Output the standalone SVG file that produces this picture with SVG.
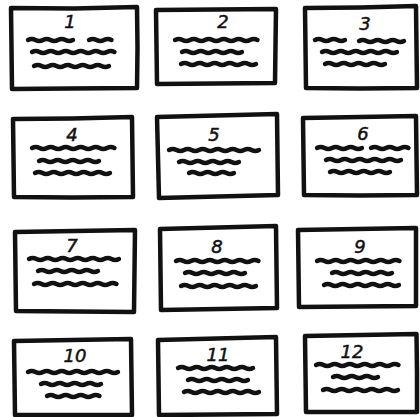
<svg xmlns="http://www.w3.org/2000/svg" width="420" height="417" viewBox="0 0 420 417">
<style>
.box{fill:none;stroke:#111;stroke-width:4.5;stroke-linejoin:round;stroke-linecap:round}
.w{fill:none;stroke:#111;stroke-width:4.4;stroke-linecap:round;stroke-linejoin:round}
.n{font-family:"DejaVu Sans",sans-serif;font-size:18px;font-style:italic;fill:#111;stroke:#111;stroke-width:0.5;text-anchor:middle}
</style>
<rect width="420" height="417" fill="#fff"/>
<g id="card1">
<path class="box" d="M11 8 L74 8.5 L137 7 L137.5 48 L137 88 L70 88.5 L12 89 L11.5 48 Z"/>
<text class="n" x="70" y="28">1</text>
<path class="w" d="M28 40 q3.75 -2 7.5 0 t7.5 0 7.5 0 7.5 0 7.5 0 7.5 0"/>
<path class="w" d="M89 40 q3.75 -2 7.5 0 t7.5 0 7.5 0"/>
<path class="w" d="M32 52 q3.75 -2 7.5 0 t7.5 0 7.5 0 7.5 0 7.5 0 7.5 0 7.5 0 7.5 0 7.5 0 7.5 0 7.5 0"/>
<path class="w" d="M34 66 q3.75 -2 7.5 0 t7.5 0 7.5 0 7.5 0 7.5 0 7.5 0 7.5 0 7.5 0 7.5 0 7.5 0"/>
</g>
<g id="card2">
<path class="box" d="M156 10 L216 9.5 L276 9 L275.5 46 L275 83 L216 83.5 L157 84 L156.5 47 Z"/>
<text class="n" x="223" y="28">2</text>
<path class="w" d="M175 40 q3.75 -2 7.5 0 t7.5 0 7.5 0 7.5 0 7.5 0 7.5 0 7.5 0 7.5 0 7.5 0 7.5 0 7.5 0"/>
<path class="w" d="M182 52 q3.75 -2 7.5 0 t7.5 0 7.5 0 7.5 0 7.5 0 7.5 0 7.5 0 7.5 0"/>
<path class="w" d="M181 64 q3.75 -2 7.5 0 t7.5 0 7.5 0 7.5 0 7.5 0 7.5 0 7.5 0 7.5 0 7.5 0 7.5 0"/>
</g>
<g id="card3">
<path class="box" d="M305 8 L360 7.5 L416 6 L416.5 47 L417 88 L360 88.5 L306 88 L305.5 48 Z"/>
<text class="n" x="365" y="30">3</text>
<path class="w" d="M315 40 q3.75 -2 7.5 0 t7.5 0 7.5 0 7.5 0"/>
<path class="w" d="M359 41 q3.75 -2 7.5 0 t7.5 0 7.5 0 7.5 0 7.5 0 7.5 0"/>
<path class="w" d="M322 52 q3.75 -2 7.5 0 t7.5 0 7.5 0 7.5 0 7.5 0 7.5 0 7.5 0 7.5 0 7.5 0 7.5 0"/>
<path class="w" d="M325 64 q3.75 -2 7.5 0 t7.5 0 7.5 0 7.5 0 7.5 0 7.5 0 7.5 0 7.5 0"/>
</g>
<g id="card4">
<path class="box" d="M13 119 L72 118.5 L132 117 L132.5 157 L133 197 L72 197.5 L14 197 L13.5 158 Z"/>
<text class="n" x="72" y="141">4</text>
<path class="w" d="M32 148 q3.75 -2 7.5 0 t7.5 0 7.5 0 7.5 0 7.5 0 7.5 0 7.5 0 7.5 0 7.5 0 7.5 0 7.5 0"/>
<path class="w" d="M39 161 q3.75 -2 7.5 0 t7.5 0 7.5 0 7.5 0 7.5 0 7.5 0 7.5 0 7.5 0"/>
<path class="w" d="M35 173 q3.75 -2 7.5 0 t7.5 0 7.5 0 7.5 0 7.5 0 7.5 0 7.5 0 7.5 0 7.5 0 7.5 0"/>
</g>
<g id="card5">
<path class="box" d="M157 117 L217 115.5 L277 114 L277.5 155 L278 195 L218 196.5 L159 198 L158 157 Z"/>
<text class="n" x="214" y="141">5</text>
<path class="w" d="M169 150 q3.75 -2 7.5 0 t7.5 0 7.5 0 7.5 0 7.5 0 7.5 0 7.5 0 7.5 0 7.5 0 7.5 0 7.5 0 7.5 0"/>
<path class="w" d="M179 162 q3.75 -2 7.5 0 t7.5 0 7.5 0 7.5 0 7.5 0 7.5 0 7.5 0 7.5 0"/>
<path class="w" d="M189 173 q3.75 -2 7.5 0 t7.5 0 7.5 0 7.5 0 7.5 0 7.5 0"/>
</g>
<g id="card6">
<path class="box" d="M303 118 L360 117 L416 116 L416.5 156 L417 195 L360 195.5 L304 195 L303.5 157 Z"/>
<text class="n" x="363" y="140">6</text>
<path class="w" d="M317 148 q3.75 -2 7.5 0 t7.5 0 7.5 0 7.5 0 7.5 0 7.5 0"/>
<path class="w" d="M371 148 q3.75 -2 7.5 0 t7.5 0 7.5 0 7.5 0 7.5 0"/>
<path class="w" d="M326 160 q3.75 -2 7.5 0 t7.5 0 7.5 0 7.5 0 7.5 0 7.5 0 7.5 0 7.5 0 7.5 0 7.5 0"/>
<path class="w" d="M330 172 q3.75 -2 7.5 0 t7.5 0 7.5 0 7.5 0 7.5 0 7.5 0 7.5 0 7.5 0"/>
</g>
<g id="card7">
<path class="box" d="M15 232 L75 231 L135 230 L134.5 271 L134 312 L75 311.5 L16 311 L15.5 272 Z"/>
<text class="n" x="72" y="252">7</text>
<path class="w" d="M29 259 q3.75 -2 7.5 0 t7.5 0 7.5 0 7.5 0 7.5 0 7.5 0 7.5 0 7.5 0 7.5 0 7.5 0 7.5 0 7.5 0"/>
<path class="w" d="M38 271 q3.75 -2 7.5 0 t7.5 0 7.5 0 7.5 0 7.5 0 7.5 0 7.5 0 7.5 0"/>
<path class="w" d="M34 284 q3.75 -2 7.5 0 t7.5 0 7.5 0 7.5 0 7.5 0 7.5 0 7.5 0 7.5 0 7.5 0 7.5 0 7.5 0"/>
</g>
<g id="card8">
<path class="box" d="M160 229 L218 227.5 L276 226 L276.5 267 L277 308 L219 309 L161 310 L160.5 270 Z"/>
<text class="n" x="217" y="253">8</text>
<path class="w" d="M176 261 q3.75 -2 7.5 0 t7.5 0 7.5 0 7.5 0 7.5 0 7.5 0 7.5 0 7.5 0 7.5 0 7.5 0 7.5 0"/>
<path class="w" d="M185 273 q3.75 -2 7.5 0 t7.5 0 7.5 0 7.5 0 7.5 0 7.5 0 7.5 0 7.5 0"/>
<path class="w" d="M181 286 q3.75 -2 7.5 0 t7.5 0 7.5 0 7.5 0 7.5 0 7.5 0 7.5 0 7.5 0 7.5 0 7.5 0"/>
</g>
<g id="card9">
<path class="box" d="M298 230 L357 229 L416 228 L416 267 L416 306 L357 306.5 L299 307 L298.5 268 Z"/>
<text class="n" x="360" y="253">9</text>
<path class="w" d="M317 261 q3.75 -2 7.5 0 t7.5 0 7.5 0 7.5 0 7.5 0 7.5 0 7.5 0 7.5 0 7.5 0 7.5 0 7.5 0"/>
<path class="w" d="M332 273 q3.75 -2 7.5 0 t7.5 0 7.5 0 7.5 0 7.5 0 7.5 0 7.5 0 7.5 0"/>
<path class="w" d="M324 285 q3.75 -2 7.5 0 t7.5 0 7.5 0 7.5 0 7.5 0 7.5 0 7.5 0 7.5 0 7.5 0 7.5 0"/>
</g>
<g id="card10">
<path class="box" d="M14 341 L72 340 L131 339 L131.5 377 L132 415 L73 415 L15 415 L14.5 378 Z"/>
<text class="n" x="75" y="362">10</text>
<path class="w" d="M28 372 q3.75 -2 7.5 0 t7.5 0 7.5 0 7.5 0 7.5 0 7.5 0 7.5 0 7.5 0 7.5 0 7.5 0 7.5 0 7.5 0"/>
<path class="w" d="M41 384 q3.75 -2 7.5 0 t7.5 0 7.5 0 7.5 0 7.5 0 7.5 0 7.5 0 7.5 0"/>
<path class="w" d="M47 396 q3.75 -2 7.5 0 t7.5 0 7.5 0 7.5 0 7.5 0 7.5 0 7.5 0"/>
</g>
<g id="card11">
<path class="box" d="M158 340 L217 338.5 L276 337 L276.5 376 L277 414 L218 414.5 L159 415 L158.5 377 Z"/>
<text class="n" x="218" y="361">11</text>
<path class="w" d="M178 368 q3.75 -2 7.5 0 t7.5 0 7.5 0 7.5 0 7.5 0 7.5 0 7.5 0 7.5 0 7.5 0 7.5 0"/>
<path class="w" d="M188 380 q3.75 -2 7.5 0 t7.5 0 7.5 0 7.5 0 7.5 0 7.5 0 7.5 0 7.5 0"/>
<path class="w" d="M184 392 q3.75 -2 7.5 0 t7.5 0 7.5 0 7.5 0 7.5 0 7.5 0 7.5 0 7.5 0 7.5 0 7.5 0"/>
</g>
<g id="card12">
<path class="box" d="M305 336 L361 335 L416.5 334 L417 373 L417 412 L361 412 L306 412 L305.5 374 Z"/>
<text class="n" x="352" y="358">12</text>
<path class="w" d="M316 365 q3.75 -2 7.5 0 t7.5 0 7.5 0 7.5 0 7.5 0 7.5 0 7.5 0 7.5 0 7.5 0 7.5 0 7.5 0"/>
<path class="w" d="M333 377 q3.75 -2 7.5 0 t7.5 0 7.5 0 7.5 0 7.5 0 7.5 0"/>
<path class="w" d="M323 390 q3.75 -2 7.5 0 t7.5 0 7.5 0 7.5 0 7.5 0 7.5 0 7.5 0 7.5 0 7.5 0 7.5 0"/>
</g>
<g id="connectors"></g>
</svg>
